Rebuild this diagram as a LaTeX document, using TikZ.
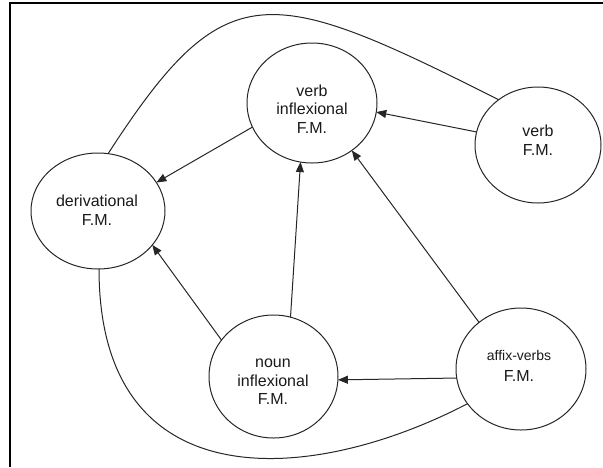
\documentclass[tikz,border=0pt]{standalone}
\usepackage{fontspec}
\setmainfont{Liberation Sans}
\usetikzlibrary{shapes.geometric,arrows.meta}
\begin{document}
\begin{tikzpicture}[x=1pt,y=-1pt,
  fm/.style={draw=black!85, line width=1pt, ellipse, inner sep=0pt, outer sep=0pt},
  lbl/.style={align=center, text=black!90, font=\fontsize{16}{18.5}\selectfont},
  conn/.style={draw=black!85, line width=1pt},
  arr/.style={conn, -{Triangle[length=10pt,width=8pt]}},
  frame/.style={draw=black, line width=2.5pt}
]
\useasboundingbox (0,0) rectangle (603,467);
\draw[frame] (603,3) -- (10,3) -- (10,467);

% ellipses
\node[fm, minimum width=130pt, minimum height=120pt] (vI) at (312,103) {};
\node[fm, minimum width=126pt, minimum height=116pt] (vF) at (538,145) {};
\node[fm, minimum width=134pt, minimum height=116pt] (der) at (98,211) {};
\node[fm, minimum width=129pt, minimum height=123pt] (noun) at (273.5,376.5) {};
\node[fm, minimum width=130pt, minimum height=122pt] (affix) at (521,369) {};

% labels
\node[lbl] (vIt) at (312,109) {verb\\inflexional\\F.M.};
\node[lbl] (vFt) at (538,140) {verb\\F.M.};
\node[lbl] (dert) at (97,210) {derivational\\F.M.};
\node[lbl] (nount) at (273,382) {noun\\inflexional\\F.M.};
\node[lbl] (affixt) at (519,366) {{\fontsize{14}{16}\selectfont affix-verbs}\\[3pt]F.M.};

% arrows
\draw[arr] (vF.168) -- (vI.-8);
\draw[arr] (vI.202) -- (der.26);
\draw[arr] (noun.145) -- (der.-32);
\draw[arr] (noun.74) -- (vI.-101);
\draw[arr] (affix.132) -- (vI.-50.5);
\draw[arr] (affix.188) -- (noun.-3);

% curves
\draw[conn] (der.80) .. controls (225,-27) and (267,-17) .. (vF.131.6);
\draw[conn] (der.-89) .. controls (99,499) and (307,487) .. (affix.213.7);
\end{tikzpicture}
\end{document}
